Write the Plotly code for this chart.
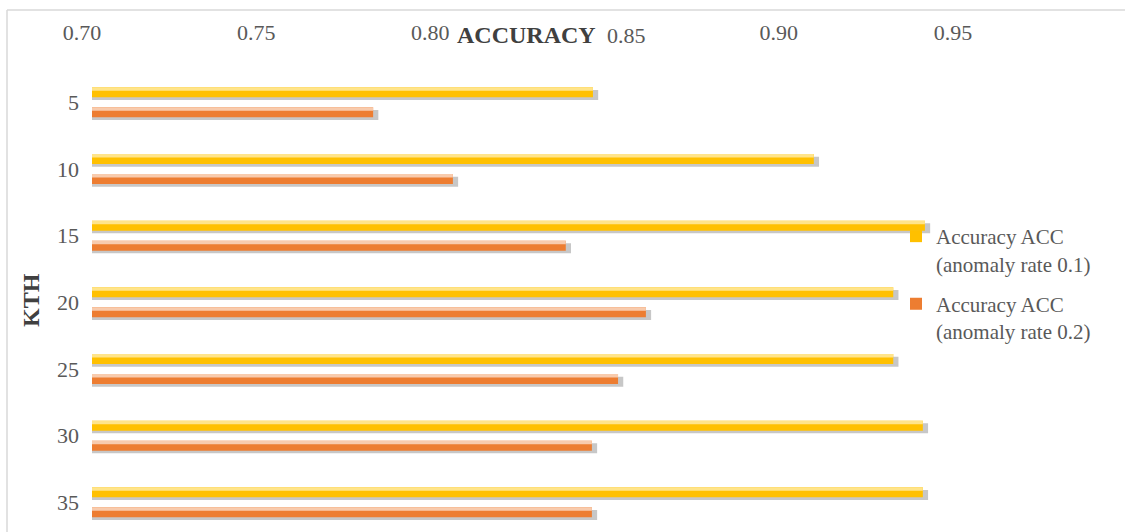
import plotly.graph_objects as go

# K values (KTH) and accuracy for the two anomaly rates
kth = ["5", "10", "15", "20", "25", "30", "35"]
acc_rate_01 = [0.8438, 0.9072, 0.9391, 0.9300, 0.9300, 0.9385, 0.9385]
acc_rate_02 = [0.7807, 0.8036, 0.8360, 0.8590, 0.8510, 0.8435, 0.8435]
x_ticks = [0.70, 0.75, 0.80, 0.85, 0.90, 0.95]

name_01 = "Accuracy ACC<br>(anomaly rate 0.1)"
name_02 = "Accuracy ACC<br>(anomaly rate 0.2)"

YELLOW = "#FFC000"
YELLOW_LIGHT = "#FFE48A"
ORANGE = "#ED7D31"
ORANGE_LIGHT = "#F8CBAD"
SHADOW = "rgba(80,80,80,0.32)"

pos = list(range(len(kth)))
BAR_W = 0.15
X_MIN = 0.70

fig = go.Figure()


def add_series(values, offset, color, light, name, group):
    base = [X_MIN] * len(values)
    # soft drop shadow, nudged down and to the right
    fig.add_trace(go.Bar(
        y=pos, x=[v - X_MIN + 0.0015 for v in values], base=base,
        orientation="h", width=BAR_W, offset=offset + 0.04,
        marker=dict(color=SHADOW, line=dict(width=0)),
        showlegend=False, hoverinfo="skip"))
    # main bar
    fig.add_trace(go.Bar(
        y=pos, x=[v - X_MIN for v in values], base=base,
        orientation="h", width=BAR_W, offset=offset,
        marker=dict(color=color, line=dict(width=0)),
        name=name, legendgroup=group))
    # lighter sheen along the top edge
    fig.add_trace(go.Bar(
        y=pos, x=[v - X_MIN for v in values], base=base,
        orientation="h", width=BAR_W * 0.35, offset=offset,
        marker=dict(color=light, line=dict(width=0)),
        showlegend=False, hoverinfo="skip", legendgroup=group))


add_series(acc_rate_01, -0.225, YELLOW, YELLOW_LIGHT, name_01, "a")
add_series(acc_rate_02, 0.075, ORANGE, ORANGE_LIGHT, name_02, "b")

W, H = 1125, 532
ML, MR, MT, MB = 92, 75, 45, 0
pw = W - ML - MR
ph = H - MT - MB

SERIF = "Liberation Serif, Times New Roman, serif"
TICK_FONT = dict(family=SERIF, size=22, color="#595959")

# the 0.85 label sits just right of the axis title, so it is placed separately
tick_text = [f"{t:.2f}" for t in x_ticks]
label_085 = tick_text[3]
tick_text[3] = ""


def py(px):
    return 1 - (px - MT) / ph


def px_(px):
    return (px - ML) / pw


fig.update_layout(
    width=W, height=H,
    margin=dict(l=ML, r=MR, t=MT, b=MB),
    paper_bgcolor="white", plot_bgcolor="white",
    barmode="overlay",
    font=TICK_FONT,
    xaxis=dict(
        side="top", range=[X_MIN, 0.975], tickvals=x_ticks, ticktext=tick_text,
        showgrid=False, zeroline=False, showline=False, ticks="",
        ticklabelshift=-10, fixedrange=True,
    ),
    yaxis=dict(
        range=[6.445, -0.86], tickvals=pos, ticktext=kth,
        showgrid=False, zeroline=False, showline=False, ticks="",
        ticklabelstandoff=12,
    ),
    legend=dict(
        x=px_(896), xanchor="left", y=py(216), yanchor="top",
        bgcolor="rgba(0,0,0,0)", font=dict(size=21, color="#595959"),
        traceorder="grouped", tracegroupgap=10, valign="top",
    ),
    annotations=[
        dict(text="<b>ACCURACY</b>", xref="paper", yref="paper",
             x=px_(526), y=py(35), xanchor="center", yanchor="middle",
             showarrow=False, font=dict(family=SERIF, size=24, color="#404040")),
        dict(text=label_085, xref="x", yref="paper",
             x=x_ticks[3], xshift=12, y=py(35), xanchor="center", yanchor="middle",
             showarrow=False, font=TICK_FONT),
        dict(text="<b>KTH</b>", xref="paper", yref="paper",
             x=px_(31), y=py(300), xanchor="center", yanchor="middle", textangle=-90,
             showarrow=False, font=dict(family=SERIF, size=24, color="#404040")),
    ],
    shapes=[
        dict(type="line", xref="paper", yref="paper",
             x0=px_(7), x1=px_(W), y0=py(10), y1=py(10),
             line=dict(color="#d9d9d9", width=1.5)),
        dict(type="line", xref="paper", yref="paper",
             x0=px_(7), x1=px_(7), y0=py(10), y1=py(H),
             line=dict(color="#d9d9d9", width=1.5)),
    ],
)

fig.write_html("out.html")
